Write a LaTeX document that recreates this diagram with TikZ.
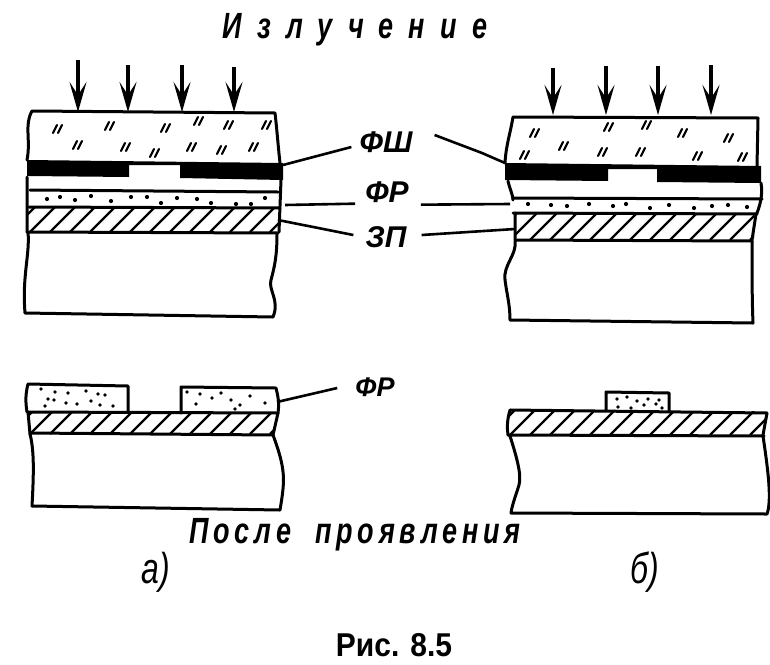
\documentclass[tikz,border=0pt]{standalone}
\usepackage{fontspec}
\setmainfont{Liberation Sans}
\newfontfamily\widefont[LetterSpace=56]{Liberation Sans}
\newfontfamily\looseFont[LetterSpace=18]{Liberation Sans}
\usetikzlibrary{arrows.meta}
\usetikzlibrary{positioning}

% hatched band: left, top, right, bottom
\newcommand{\hatchband}[4]{
	\begin{scope}
		\clip (#1,#2) rectangle (#3,#4);
		\foreach \hx in {-30,-10,...,800}
			\draw[hatchline] (\hx,#4) -- ++(#4-#2,#2-#4);
	\end{scope}
}

\begin{document}
\begin{tikzpicture}[x=1pt,y=-1pt]
		\tikzset{
			edge/.style={line width=3pt,line join=round,line cap=round},
			hatchline/.style={line width=2.4pt},
			ray/.style={line width=3.2pt,-{Stealth[length=30pt,width=17pt,inset=13pt]}},
			leader/.style={line width=2.6pt},
			tag/.style={inner sep=0pt,font=\fontsize{30}{30}\selectfont\bfseries\itshape},
			caption/.style={inner sep=0pt,yscale=1.35,transform shape,font=\fontsize{27}{27}\selectfont\bfseries\itshape},
			speck/.style={line width=2.2pt,line cap=round}
		}
		\useasboundingbox (0,0) rectangle (770,664);

		% labels
		\node[caption] (rad) at (355,30) {\widefont Излучение};
		\node[tag] (fsh) at (386,142) {ФШ};
		\node[tag] (frtop) at (387,192) {ФР};
		\node[tag] (zp) at (386,237) {ЗП};
		\node[tag,font=\fontsize{27}{27}\selectfont\bfseries\itshape] (frlow) at (375,387) {ФР};
		\node[caption] (after) at (355,535) {\looseFont После\hspace{24pt}проявления};
		\node[caption,font=\fontsize{32}{32}\selectfont\itshape] (capa) at (156,572) {а)};
		\node[caption,font=\fontsize{32}{32}\selectfont\itshape] (capb) at (645,572) {б)};
		\node[inner sep=0pt,yscale=1.1,transform shape,font=\fontsize{30}{30}\selectfont\bfseries] (fig) at (394,645) {Рис. 8.5};

		% left panel, upper
		\foreach \rx/\ry in {78/60,128/65,182/65,234/67}
			\draw[ray] (\rx,\ry) -- (\rx,112);
		\draw[edge] (27,160) .. controls (31,140) and (24,125) .. (32,111) -- (275,113) .. controls (277,130) and (278,145) .. (280,163);
		\fill (27,160) -- (283,163) -- (283,180) -- (180,178) -- (180,165) -- (129,165) -- (129,177) -- (27,176) -- cycle;
		\draw[edge] (27,177) -- (27,232) (281,180) -- (279,232);
		\draw[edge] (30,190) -- (278,192);
		\draw[edge] (29,207) -- (280,208);
		\hatchband{27}{207}{279}{232}
		\draw[edge] (27,232) -- (278,233);
		\draw[edge] (28,232) .. controls (30,255) and (22,275) .. (25,313) -- (273,317) .. controls (280,300) and (268,290) .. (271,280) .. controls (275,265) and (277,255) .. (277,233);
		\foreach \sx/\sy in {47/199,60/197,75/200,91/196,111/201,131/197,147/197,161/203,177/198,197/199,211/203,236/204,251/204,265/198}
			\fill (\sx,\sy) circle (2.1pt);
		\foreach \tx/\ty in {56/129,108/126,164/128,197/121,227/125,265/125,76/145,124/147,153/153,190/147,220/150,252/147}
			\draw[speck] (\tx-3,\ty+4) -- (\tx+1,\ty-4) (\tx+2,\ty+4) -- (\tx+6,\ty-4);

		% right panel, upper
		\foreach \rx/\ry in {553/68,606/66,658/66,711/65}
			\draw[ray] (\rx,\ry) -- (\rx,115);
		\draw[edge] (505,163) .. controls (506,145) and (510,135) .. (513,117) -- (758,118) -- (757,166);
		\fill (505,163) -- (761,166) -- (761,183) -- (657,182) -- (657,169) -- (608,169) -- (608,181) -- (505,180) -- cycle;
		\draw[edge] (508,181) .. controls (510,190) and (513,195) .. (513,200) (761,183) .. controls (763,195) and (760,205) .. (757,213);
		\draw[edge] (513,198) -- (762,199);
		\draw[edge] (513,213) -- (757,214);
		\hatchband{515}{213}{754}{240}
		\draw[edge] (515,213) -- (515,240) (756,214) -- (752,240);
		\draw[edge] (515,240) -- (752,241);
		\draw[edge] (515,241) .. controls (517,255) and (503,265) .. (505,280) .. controls (507,295) and (510,305) .. (510,320) -- (753,323) .. controls (752,300) and (752,270) .. (752,241);
		\foreach \sx/\sy in {528/204,551/205,567/206,589/204,613/206,626/204,650/208,669/205,694/208,712/206,728/205,747/207}
			\fill (\sx,\sy) circle (2.1pt);
		\foreach \tx/\ty in {533/133,607/127,645/125,681/133,727/138,523/155,562/146,601/152,639/152,696/156,741/157}
			\draw[speck] (\tx-3,\ty+4) -- (\tx+1,\ty-4) (\tx+2,\ty+4) -- (\tx+6,\ty-4);

		% left panel, lower
		\draw[edge] (27,412) .. controls (25,400) and (26,392) .. (28,384) -- (128,386) -- (128,412);
		\draw[edge] (181,413) -- (181,387) -- (276,388) .. controls (279,400) and (279,405) .. (278,413);
		\draw[edge] (28,412) -- (278,413);
		\hatchband{28}{412}{275}{434}
		\draw[edge] (28,412) -- (30,434) (278,413) -- (273,435);
		\draw[edge] (30,433) -- (273,435);
		\draw[edge] (30,434) .. controls (34,450) and (34,470) .. (32,506) -- (280,510) .. controls (285,480) and (286,470) .. (273,435);
		\foreach \sx/\sy in {41/389,55/392,68/393,86/391,98/394,105/395,48/399,54/400,66/403,77/404,91/401,100/405,113/406,45/406,187/392,200/394,221/393,250/396,196/404,212/398,231/400,240/405,265/403,235/409}
			\fill (\sx,\sy) circle (1.9pt);

		% right panel, lower
		\draw[edge] (606,410) -- (606,392) -- (669,393) -- (669,412);
		\draw[edge] (510,410) -- (767,413);
		\hatchband{509}{411}{767}{435}
		\draw[edge] (510,410) .. controls (507,420) and (507,428) .. (508,435) (767,413) -- (763,435);
		\draw[edge] (508,435) -- (764,436);
		\draw[edge] (510,436) .. controls (516,455) and (522,475) .. (519,485) .. controls (516,495) and (512,505) .. (511,513) -- (767,514) .. controls (772,500) and (768,470) .. (763,436);
		\foreach \sx/\sy in {617/399,627/397,637/401,648/399,659/400,618/407,631/408,644/405,656/404,662/408}
			\fill (\sx,\sy) circle (1.9pt);

		% leaders
		\coordinate (fshL) at (283,165);
		\coordinate (frL) at (285,205);
		\coordinate (zpL) at (278,220);
		\coordinate (fshR) at (505,163);
		\coordinate (fshK) at (482,153);
		\coordinate (frR) at (510,204);
		\coordinate (zpR) at (515,229);
		\coordinate (frB) at (277,402);
		\draw[leader] (fsh.west) ++(-8,5) -- (fshL);
		\draw[leader] (frtop.south west) ++(-10,1) -- (frL);
		\draw[leader] (zp.west) ++(-12,-2) -- (zpL);
		\draw[leader] (fsh.east) ++(22,-7) -- (fshK) -- (fshR);
		\draw[leader] (frtop.south east) ++(12,2) -- (frR);
		\draw[leader] (zp.east) ++(15,-2) -- (zpR);
		\draw[leader] (frlow.west) ++(-18,1) -- (frB);
	\end{tikzpicture}
\end{document}
